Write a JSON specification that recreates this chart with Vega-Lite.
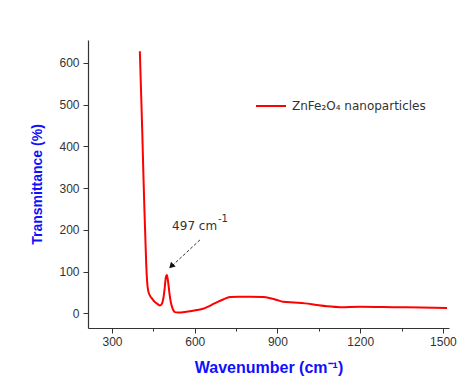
{
  "$schema": "https://vega.github.io/schema/vega-lite/v6.json",
  "width": 361,
  "height": 288,
  "autosize": {"type": "none"},
  "padding": {"left": 88, "top": 40, "right": 27, "bottom": 62},
  "background": "white",
  "config": {
    "view": {"stroke": null},
    "font": "Liberation Sans",
    "axis": {
      "grid": false,
      "domainColor": "#333333",
      "domainWidth": 1.2,
      "tickColor": "#333333",
      "labelColor": "#333333",
      "labelFont": "Liberation Sans",
      "labelFontSize": 12,
      "titleColor": "#1010ff",
      "titleFont": "Liberation Sans",
      "titleFontWeight": "bold"
    }
  },
  "datasets": {
    "spectrum": [
      {"wn": 401, "t": 628}, {"wn": 405, "t": 540}, {"wn": 410, "t": 430}, {"wn": 414, "t": 330},
      {"wn": 418, "t": 240}, {"wn": 421, "t": 180}, {"wn": 424, "t": 120}, {"wn": 427, "t": 80},
      {"wn": 431, "t": 55}, {"wn": 438, "t": 42}, {"wn": 446, "t": 35}, {"wn": 456, "t": 27},
      {"wn": 466, "t": 22}, {"wn": 474, "t": 19}, {"wn": 480, "t": 22}, {"wn": 486, "t": 35},
      {"wn": 491, "t": 60}, {"wn": 495, "t": 85}, {"wn": 499, "t": 92}, {"wn": 503, "t": 78},
      {"wn": 508, "t": 50}, {"wn": 513, "t": 28}, {"wn": 518, "t": 15}, {"wn": 523, "t": 7},
      {"wn": 528, "t": 3}, {"wn": 540, "t": 2}, {"wn": 570, "t": 4}, {"wn": 608, "t": 8},
      {"wn": 630, "t": 11}, {"wn": 644, "t": 15}, {"wn": 660, "t": 20}, {"wn": 681, "t": 27},
      {"wn": 705, "t": 34}, {"wn": 728, "t": 39}, {"wn": 760, "t": 40}, {"wn": 800, "t": 40},
      {"wn": 848, "t": 39}, {"wn": 870, "t": 37}, {"wn": 898, "t": 32}, {"wn": 920, "t": 28},
      {"wn": 960, "t": 26}, {"wn": 1000, "t": 24}, {"wn": 1043, "t": 20}, {"wn": 1080, "t": 17},
      {"wn": 1127, "t": 15}, {"wn": 1200, "t": 16}, {"wn": 1319, "t": 15}, {"wn": 1420, "t": 14},
      {"wn": 1515, "t": 13}
    ],
    "arrow": [
      {"wn": 619, "t": 176},
      {"wn": 518, "t": 114}
    ]
  },
  "layer": [
    {
      "data": {"name": "spectrum"},
      "transform": [{"calculate": "'ZnFe₂O₄ nanoparticles'", "as": "series"}],
      "mark": {"type": "line", "strokeWidth": 2, "interpolate": "monotone"},
      "encoding": {
        "x": {
          "field": "wn", "type": "quantitative",
          "scale": {"domain": [213, 1522], "nice": false, "zero": false},
          "axis": {
            "title": "Wavenumber (cm⁻¹)",
            "titleFontSize": 16,
            "titlePadding": 12,
            "values": [300, 450, 600, 750, 900, 1050, 1200, 1350, 1500],
            "labelExpr": "datum.value % 300 === 0 ? datum.label : ''",
            "format": "d",
            "tickSize": {"condition": {"test": "datum.value % 300 === 0", "value": 5}, "value": 3},
            "labelPadding": 3
          }
        },
        "y": {
          "field": "t", "type": "quantitative",
          "scale": {"domain": [-35, 655], "nice": false, "zero": false},
          "axis": {
            "title": "Transmittance (%)",
            "titleFontSize": 14,
            "titlePadding": 14,
            "values": [0, 50, 100, 150, 200, 250, 300, 350, 400, 450, 500, 550, 600, 650],
            "labelExpr": "datum.value % 100 === 0 ? datum.label : ''",
            "tickSize": {"condition": {"test": "datum.value % 100 === 0", "value": 5}, "value": 3},
            "labelPadding": 4
          }
        },
        "color": {
          "field": "series", "type": "nominal",
          "scale": {"range": ["#ff0000"]},
          "legend": {
            "title": null,
            "orient": "none",
            "legendX": 167,
            "legendY": 50,
            "symbolType": "stroke",
            "symbolSize": 900,
            "symbolStrokeWidth": 2,
            "labelFont": "DejaVu Sans",
            "labelFontSize": 12,
            "labelColor": "#333333",
            "labelOffset": 5
          }
        }
      }
    },
    {
      "data": {"name": "arrow"},
      "mark": {"type": "line", "color": "#333333", "strokeWidth": 1, "strokeDash": [3, 2]},
      "encoding": {
        "x": {"field": "wn", "type": "quantitative"},
        "y": {"field": "t", "type": "quantitative"}
      }
    },
    {
      "data": {"values": [{"wn": 515, "t": 113}]},
      "mark": {"type": "point", "shape": "triangle-up", "filled": true, "color": "#111111", "size": 45, "angle": 225, "opacity": 1},
      "encoding": {
        "x": {"field": "wn", "type": "quantitative"},
        "y": {"field": "t", "type": "quantitative"}
      }
    },
    {
      "data": {"values": [{"wn": 518, "t": 210, "label": "497 cm"}]},
      "mark": {"type": "text", "align": "left", "baseline": "middle", "font": "DejaVu Sans", "fontSize": 12, "color": "#333333"},
      "encoding": {
        "x": {"field": "wn", "type": "quantitative"},
        "y": {"field": "t", "type": "quantitative"},
        "text": {"field": "label"}
      }
    },
    {
      "data": {"values": [{"wn": 684, "t": 226, "label": "-1"}]},
      "mark": {"type": "text", "align": "left", "baseline": "middle", "font": "DejaVu Sans", "fontSize": 10, "color": "#333333"},
      "encoding": {
        "x": {"field": "wn", "type": "quantitative"},
        "y": {"field": "t", "type": "quantitative"},
        "text": {"field": "label"}
      }
    }
  ]
}
